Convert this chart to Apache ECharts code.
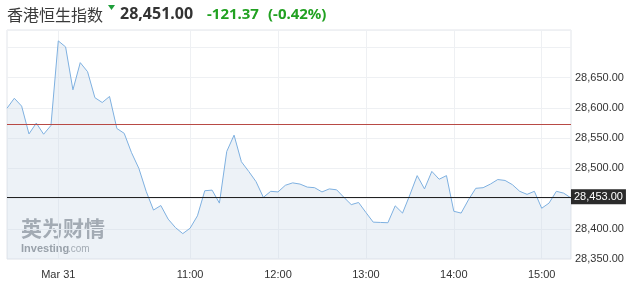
<!DOCTYPE html>
<html><head><meta charset="utf-8">
<script src="https://cdn.jsdelivr.net/npm/echarts@6/dist/echarts.min.js"></script>
<style>html,body{margin:0;padding:0;background:#fff}#c{width:638px;height:294px}</style>
</head><body><div id="c"></div>
<script>
// 5-minute points, index 0 = 08:55
var values = [28599.5,28616,28603,28557,28575,28556.5,28571,28711,28701,28630,
28675,28660,28617,28609,28619,28566,28558,28526,28500,28462,
28431,28438.5,28416,28402,28392,28401,28421.5,28463,28464,28442.5,
28528,28555,28511,28495,28478,28452,28462,28461,28472,28476,
28474,28469,28468,28461,28466,28464.5,28452,28440,28443.5,28427,
28411,28410.5,28410,28438,28426,28456,28488,28466,28495,28482,
28488,28429,28426,28448,28467,28468,28474,28481.5,28480,28473,
28462,28457,28462,28434,28442.5,28462,28459,28451];
var xLabels = {7:'Mar 31',25:'11:00',37:'12:00',49:'13:00',61:'14:00',73:'15:00'};
var yLabelMax = 28650;
var prevClose = 28572.37;
var lastPrice = 28453;
var lastPriceLabel = '28,453.00';
var titleName = '香港恒生指数';
var titlePrice = '28,451.00';
var titleChange = '-121.37';
var titlePct = '(-0.42%)';

var cats = values.map(function(v,i){var m=8*60+55+5*i;var h=Math.floor(m/60),mm=m%60;return h+':'+(mm<10?'0':'')+mm;});
var chart = echarts.init(document.getElementById('c'));
function fmt(v){return v>yLabelMax?'':v.toLocaleString('en-US',{minimumFractionDigits:2,maximumFractionDigits:2});}
chart.setOption({
  animation:false,
  grid:{left:7,right:67,top:30,bottom:35,show:true,borderColor:'#e2e5ea',borderWidth:1},
  xAxis:{type:'category',data:cats,boundaryGap:false,
    axisLine:{show:false},axisTick:{show:false},
    axisLabel:{interval:function(i){return xLabels[i]!==undefined;},formatter:function(v,i){return xLabels[i]||'';},
      color:'#333',fontSize:11,fontFamily:'Liberation Sans, Arial',margin:10},
    splitLine:{show:true,interval:function(i){return xLabels[i]!==undefined;},lineStyle:{color:'#eef0f3',width:1}}},
  yAxis:{type:'value',position:'right',min:28350,max:28729,interval:50,
    axisLine:{show:false},axisTick:{show:false},
    axisLabel:{formatter:fmt,color:'#333',fontSize:11,fontFamily:'Liberation Sans, Arial',margin:4,showMaxLabel:false},
    splitLine:{lineStyle:{color:'#eef0f3',width:1}}},
  series:[{type:'line',data:values,symbol:'none',
    lineStyle:{color:'#7eb0e0',width:1},
    areaStyle:{color:'rgba(203,219,231,0.5)'},
    markLine:{silent:true,symbol:'none',animation:false,
      data:[
        {yAxis:prevClose,lineStyle:{color:'#b84a45',width:1,type:'solid'},label:{show:false}},
        {yAxis:lastPrice,lineStyle:{color:'#222',width:1,type:'solid'},
          label:{show:true,position:'end',distance:0,formatter:lastPriceLabel,color:'#fff',backgroundColor:'#2b2b2b',
            padding:[2,3,2,3],fontSize:11,fontFamily:'Liberation Sans, Arial'}}
      ]}
  }],
  graphic:[
    {type:'text',left:7,top:7,style:{text:titleName,font:'16px "Noto Sans CJK SC"',fill:'#3a3a3a'}},
    {type:'polygon',shape:{points:[[108,5],[115,5],[111.5,10]]},style:{fill:'#1e9e3a'}},
    {type:'text',left:120,top:6,style:{text:titlePrice,font:'bold 16px "Noto Sans"',fill:'#333'}},
    {type:'text',left:207,top:7,style:{text:titleChange,font:'bold 15px "Noto Sans"',fill:'#21a121'}},
    {type:'text',left:268,top:7,style:{text:titlePct,font:'bold 15px "Noto Sans"',fill:'#21a121'}},
    {type:'text',left:21,top:218,style:{text:'英为财情',font:'bold 21px "Noto Sans CJK SC"',fill:'#8d9298'}},
    {type:'text',left:21,top:243,style:{text:'Investing',font:'bold 11px "Liberation Sans"',fill:'#7d8288'}},
    {type:'text',left:68,top:244,style:{text:'.com',font:'10px "Liberation Sans"',fill:'#8d9298'}}
  ]
});
</script></body></html>
